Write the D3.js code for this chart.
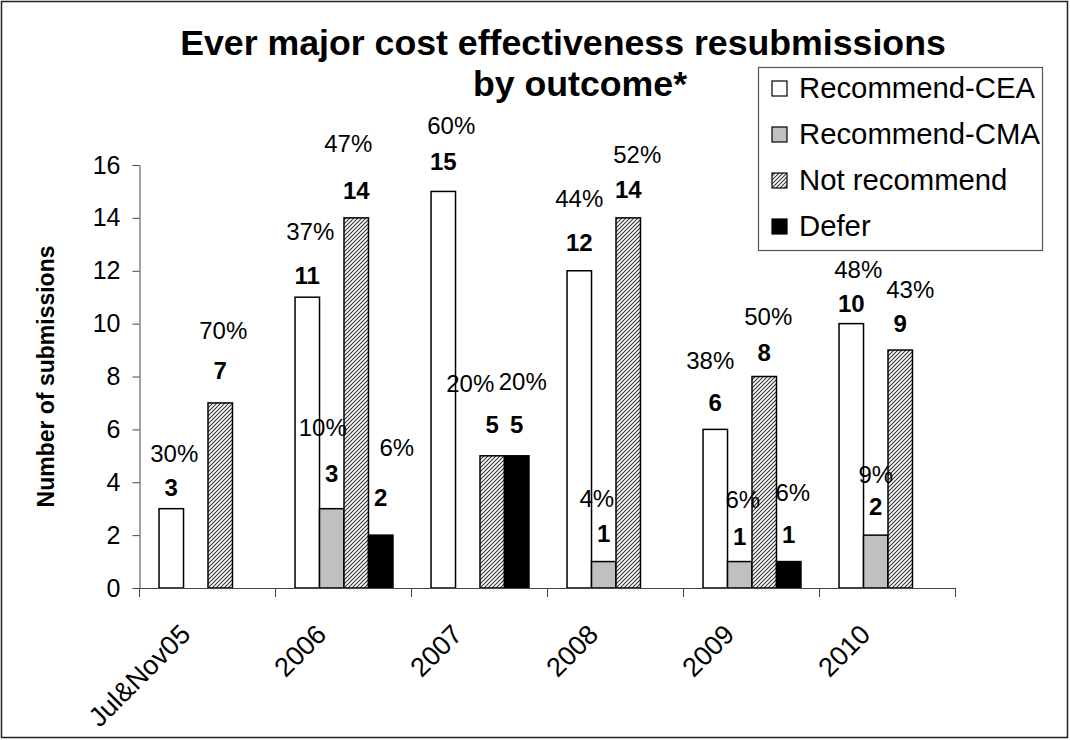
<!DOCTYPE html>
<html>
<head>
<meta charset="utf-8">
<script src="https://cdn.jsdelivr.net/npm/d3@7"></script>
<style>
  html, body { margin: 0; padding: 0; background: #fff; }
  svg { display: block; font-family: "Liberation Sans", Arial, sans-serif; }
</style>
</head>
<body>
<svg id="chart" width="1070" height="740"></svg>
<script>
// ---- data ----
const categories = ["Jul&Nov05", "2006", "2007", "2008", "2009", "2010"];
const seriesNames = ["Recommend-CEA", "Recommend-CMA", "Not recommend", "Defer"];
const ceaValues    = [3, 11, 15, 12, 6, 10];
const cmaValues    = [0, 3, 0, 1, 1, 2];
const notRecValues = [7, 14, 5, 14, 8, 9];
const deferValues  = [0, 2, 5, 0, 1, 0];
const ceaPct    = ["30%", "37%", "60%", "44%", "38%", "48%"];
const cmaPct    = [null, "10%", null, "4%", "6%", "9%"];
const notRecPct = ["70%", "47%", "20%", "52%", "50%", "43%"];
const deferPct  = [null, "6%", "20%", null, "6%", null];
const yTicks = [0, 2, 4, 6, 8, 10, 12, 14, 16];
const titleLines = ["Ever major cost effectiveness resubmissions", "by outcome*"];
const yTitle = "Number of submissions";

const seriesValues = [ceaValues, cmaValues, notRecValues, deferValues];
const seriesPct = [ceaPct, cmaPct, notRecPct, deferPct];

// ---- label placement (layout only, px): [number rise, percent rise, percent dx] per series/category ----
const labelLayout = [
  [[21, 55, 3], [22, 66, 3], [30, 66, 8], [28, 72, 0], [27, 69, -5], [20, 54, 7]],
  [null, [35, 81, -9], null, [28, 63, -7], [25, 62, 3], [29, 61, 0]],
  [[32, 72, 3], [27, 74, -8], [31, 72, -22], [28, 63, 9], [24, 60, 4], [27, 61, 10]],
  [null, [38, 88, 16], [31, 74, 6], null, [27, 69, 4], null]
];

// ---- layout ----
const svg = d3.select("#chart");
const plot = { left: 140, right: 956, top: 165, bottom: 588 };
const fills = ["#ffffff", "#c0c0c0", "url(#hatch)", "#000000"];

const defs = svg.append("defs");
const pat = defs.append("pattern")
  .attr("id", "hatch").attr("patternUnits", "userSpaceOnUse")
  .attr("width", 4).attr("height", 4);
pat.append("rect").attr("width", 4).attr("height", 4).attr("fill", "#fff");
pat.append("path").attr("d", "M-1,1 l2,-2 M0,4 l4,-4 M3,5 l2,-2")
  .attr("stroke", "#333").attr("stroke-width", 1.1);

// outer border
svg.append("rect").attr("x", 1.5).attr("y", 1.5).attr("width", 1066).attr("height", 736)
  .attr("fill", "none").attr("stroke", "#222").attr("stroke-width", 1.5);

const x0 = d3.scaleBand().domain(categories).range([plot.left, plot.right]).padding(0);
const bw = x0.bandwidth();
const x1 = d3.scaleBand().domain(seriesNames).range([bw * 0.14, bw * 0.86]).padding(0);
const y = d3.scaleLinear().domain([0, 16]).range([plot.bottom, plot.top]);

// y axis
const yAxis = svg.append("g").attr("transform", `translate(${plot.left - 0.5},0)`)
  .call(d3.axisLeft(y).tickValues(yTicks).tickSize(7).tickSizeOuter(0).tickPadding(12));
yAxis.select(".domain").attr("stroke", "#444");
yAxis.selectAll(".tick line").attr("stroke", "#444");
yAxis.selectAll(".tick text").attr("font-size", 25).attr("fill", "#000")
  .attr("font-family", "Liberation Sans, Arial, sans-serif");

// bars
const data = [];
categories.forEach((c, i) => {
  seriesNames.forEach((s, j) => {
    data.push({ cat: c, ci: i, series: s, idx: j, value: seriesValues[j][i], pct: seriesPct[j][i],
                lay: labelLayout[j][i] });
  });
});
const shown = data.filter(d => d.value > 0);
const cx = d => x0(d.cat) + x1(d.series) + x1.bandwidth() / 2;

svg.append("g").selectAll("rect").data(shown).join("rect")
  .attr("x", d => x0(d.cat) + x1(d.series))
  .attr("y", d => y(d.value))
  .attr("width", x1.bandwidth())
  .attr("height", d => y(0) - y(d.value))
  .attr("fill", d => fills[d.idx])
  .attr("stroke", "#000").attr("stroke-width", 1.5);

// x axis
const xa = svg.append("g");
xa.append("line").attr("x1", plot.left - 7).attr("x2", plot.right).attr("y1", y(0) + 0.5).attr("y2", y(0) + 0.5)
  .attr("stroke", "#444");
const bounds = categories.map(c => x0(c)).concat([x0.range()[1]]);
xa.selectAll("line.tk").data(bounds).join("line").attr("class", "tk")
  .attr("x1", d => d - 0.5).attr("x2", d => d - 0.5)
  .attr("y1", y(0)).attr("y2", y(0) + 9).attr("stroke", "#444");
xa.selectAll("text").data(categories).join("text")
  .attr("text-anchor", "end").attr("font-size", 27)
  .attr("transform", d => `translate(${x0(d) + bw / 2 - 16},636) rotate(-45)`)
  .text(d => d);

// labels (center offsets -> baseline = center + 8.5)
const lab = svg.append("g");
lab.selectAll("text.num").data(shown).join("text").attr("class", "num")
  .attr("x", d => cx(d))
  .attr("y", d => y(d.value) - d.lay[0] + 8.5)
  .attr("text-anchor", "middle").attr("font-size", 24).attr("font-weight", "bold")
  .text(d => d.value);
lab.selectAll("text.pct").data(shown.filter(d => d.pct)).join("text").attr("class", "pct")
  .attr("x", d => cx(d) + d.lay[2])
  .attr("y", d => y(d.value) - d.lay[1] + 8.5)
  .attr("text-anchor", "middle").attr("font-size", 24)
  .text(d => d.pct);

// title
svg.append("g").selectAll("text").data(titleLines).join("text")
  .attr("x", (d, i) => i === 0 ? 563 : 580)
  .attr("y", (d, i) => 55 + i * 41)
  .attr("text-anchor", "middle").attr("font-size", 35.7).attr("font-weight", "bold")
  .text(d => d);

// y title
svg.append("text").attr("transform", `translate(54,${(plot.top + plot.bottom) / 2}) rotate(-90)`)
  .attr("text-anchor", "middle").attr("font-size", 23).attr("font-weight", "bold")
  .text(yTitle);

// legend
const lg = svg.append("g");
lg.append("rect").attr("x", 758.5).attr("y", 67.5).attr("width", 284).attr("height", 183)
  .attr("fill", "#fff").attr("stroke", "#555").attr("stroke-width", 1.2);
const items = lg.selectAll("g.it").data(seriesNames).join("g").attr("class", "it")
  .attr("transform", (d, i) => `translate(0,${88 + i * 46})`);
items.append("rect").attr("x", 772).attr("y", -7).attr("width", 15).attr("height", 15)
  .attr("fill", (d, i) => fills[i]).attr("stroke", "#000").attr("stroke-width", 1.2);
items.append("text").attr("x", 799).attr("y", 10).attr("font-size", 29.3).text(d => d);
</script>
</body>
</html>
